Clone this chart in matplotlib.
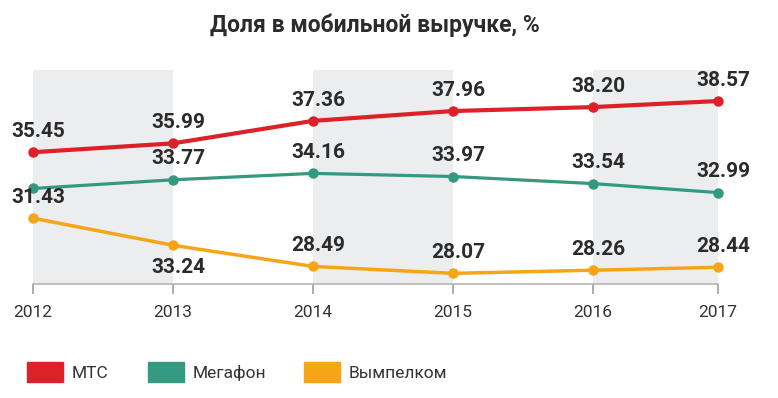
import matplotlib.pyplot as plt
from matplotlib.patches import Rectangle

plt.rcParams['font.family'] = ['Roboto', 'DejaVu Sans']

years = ['2012', '2013', '2014', '2015', '2016', '2017']
mts = [35.45, 35.99, 37.36, 37.96, 38.20, 38.57]
megafon = [33.24, 33.77, 34.16, 33.97, 33.54, 32.99]
beeline = [31.43, 29.78, 28.49, 28.07, 28.26, 28.44]

# labels as printed on the chart (one is missing, one sits under its point)
mts_labels = ['35.45', '35.99', '37.36', '37.96', '38.20', '38.57']
megafon_labels = ['', '33.77', '34.16', '33.97', '33.54', '32.99']
beeline_labels = ['31.43', '33.24', '28.49', '28.07', '28.26', '28.44']

names = ['МТС', 'Мегафон', 'Вымпелком']
colors = ['#dc2228', '#33997f', '#f6a517']

# the last year sits a bit closer than the others
xpos = [0, 1, 2, 3, 4, 4.893]

W, H = 778, 398
fig = plt.figure(figsize=(W / 100, H / 100), dpi=100)
ax = fig.add_axes([33 / W, 1 - 284 / H, 685 / W, 214 / H])
ax.set_xlim(0, 4.893)
ax.set_ylim(27.42, 40.46)

for a, b in [(0, 1), (2, 3), (4, 4.893)]:
    ax.axvspan(a, b, color='#ecedef', lw=0, zorder=0)

series = [mts, megafon, beeline]
labels = [mts_labels, megafon_labels, beeline_labels]
widths = [3.0, 2.3, 2.5]
for vals, labs, c, lw in zip(series, labels, colors, widths):
    ax.plot(xpos, vals, color=c, lw=lw, marker='o', ms=6.5,
            clip_on=False, zorder=3)
    for i, (x, v, t) in enumerate(zip(xpos, vals, labs)):
        if not t:
            continue
        dy = 15
        if vals is beeline and i == 1:
            dy = -16
        ax.annotate(t, (x, v), xytext=(4, dy), textcoords='offset points',
                    ha='center', va='center', fontsize=15,
                    fontweight='bold', color='#2b2b2b', zorder=4,
                    annotation_clip=False)

for s in ['top', 'left', 'right']:
    ax.spines[s].set_visible(False)
ax.spines['bottom'].set_color('#b5b5b5')
ax.spines['bottom'].set_linewidth(1.2)
ax.set_yticks([])
ax.set_xticks(xpos)
ax.set_xticklabels(years)
ax.tick_params(axis='x', length=7, width=1.2, color='#a0a0a0',
               labelcolor='#333333', labelsize=12.5, pad=8)

fig.text(375 / W, 1 - 25 / H, 'Доля в мобильной выручке, %',
         ha='center', va='center', fontsize=16.5, fontweight='bold',
         color='#2b2b2b')

# legend
leg_x = [27, 148, 304]
for x0, name, c in zip(leg_x, names, colors):
    fig.patches.append(Rectangle((x0 / W, 1 - 382 / H), 36 / W, 20 / H,
                                 transform=fig.transFigure, color=c))
    fig.text((x0 + 45) / W, 1 - 373 / H, name, ha='left', va='center',
             fontsize=12.5, color='#333333')

plt.savefig('out.png', dpi=100)
